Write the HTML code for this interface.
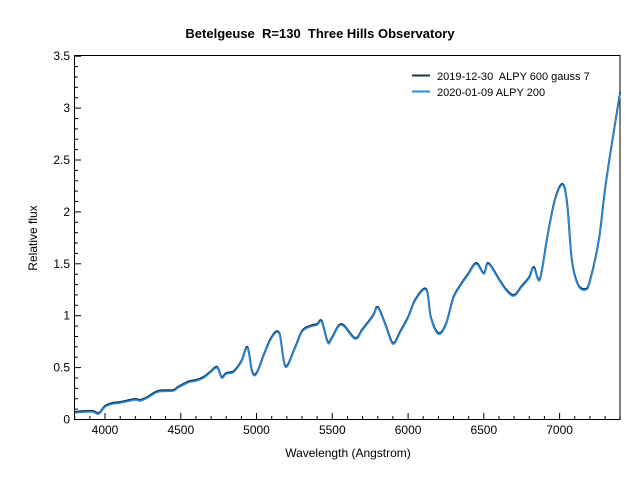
<!DOCTYPE html>
<html><head><meta charset="utf-8"><style>
body{margin:0;background:#fff;}
svg{font-family:"Liberation Sans",sans-serif;}
text{white-space:pre;}
</style></head><body>
<svg id="s" width="640" height="480" xmlns="http://www.w3.org/2000/svg">
<rect width="640" height="480" fill="#fff"/>
<text x="320" y="38" text-anchor="middle" font-size="13" font-weight="bold">Betelgeuse  R=130  Three Hills Observatory</text>
<g id="ax"></g>
<rect x="74.5" y="55.5" width="545.5" height="364" fill="none" stroke="#000" stroke-width="1"/>
<text x="348" y="457" text-anchor="middle" font-size="12">Wavelength (Angstrom)</text>
<text transform="translate(37,238) rotate(-90)" text-anchor="middle" font-size="12">Relative flux</text>
<line x1="412" y1="75.5" x2="430" y2="75.5" stroke="#1d3545" stroke-width="2"/>
<text x="437" y="80" font-size="11">2019-12-30  ALPY 600 gauss 7</text>
<line x1="412" y1="91.5" x2="430" y2="91.5" stroke="#2a8ae0" stroke-width="2"/>
<text x="437" y="96" font-size="11">2020-01-09 ALPY 200</text>
<path id="p1" fill="none" stroke="#1d3545" stroke-width="2"/>
<path id="p2" fill="none" stroke="#2a8ae0" stroke-width="1.6"/>
</svg>
<script>
var X=function(w){return 74.7+(w-3800)*0.15153;};
var Y=function(v){return 419.5-v*103.8;};
var ax=document.getElementById('ax'),h='';
for(var w=3800;w<=7400;w+=100){var x=X(w).toFixed(1),maj=w%500==0;
h+='<line x1="'+x+'" y1="419.5" x2="'+x+'" y2="'+(maj?413:416)+'" stroke="#000"/>';
if(maj&&w>=4000)h+='<text x="'+x+'" y="434" text-anchor="middle" font-size="12">'+w+'</text>';}
for(var i=0;i<=35;i++){var v=i/10,y=Y(v).toFixed(1),maj=i%5==0;
h+='<line x1="74.5" y1="'+y+'" x2="'+(maj?81:78)+'" y2="'+y+'" stroke="#000"/>';
if(maj)h+='<text x="70" y="'+(Y(v)+4)+'" text-anchor="end" font-size="12">'+(v==0?'0':(''+v))+'</text>';}
ax.innerHTML=h;
var d=[[3800,413],[3870,412],[3920,412],[3960,414],[4000,407],[4050,404],[4100,403],[4200,400],[4230,401],[4280,398],[4350,392],[4450,391],[4480,388],[4530,384],[4560,382],[4600,381],[4650,378],[4700,372],[4740,368],[4770,378],[4800,374],[4850,372],[4900,362],[4940,348],[4970,372],[5000,374],[5050,355],[5100,338],[5150,334],[5190,367],[5250,350],[5300,332],[5350,327],[5400,325],[5430,322],[5470,343],[5500,338],[5560,325],[5650,339],[5700,330],[5770,316],[5800,308],[5850,325],[5900,344],[5950,332],[6000,318],[6050,300],[6120,290],[6150,318],[6200,334],[6250,325],[6300,298],[6350,285],[6400,274],[6450,264],[6500,274],[6530,264],[6600,280],[6650,291],[6700,296],[6750,287],[6800,278],[6830,268],[6870,280],[6920,237],[6970,200],[7020,185],[7050,205],[7080,260],[7120,285],[7170,290],[7200,282],[7260,240],[7300,190],[7350,140],[7400,93]];
function path(off){var P=d.map(function(p){return [X(p[0]),p[1]+off];});
var s='M'+P[0][0].toFixed(1)+','+P[0][1];
for(var i=0;i<P.length-1;i++){var p0=P[Math.max(i-1,0)],p1=P[i],p2=P[i+1],p3=P[Math.min(i+2,P.length-1)];
var c1=[p1[0]+(p2[0]-p0[0])/6,p1[1]+(p2[1]-p0[1])/6],c2=[p2[0]-(p3[0]-p1[0])/6,p2[1]-(p3[1]-p1[1])/6];
s+=' C'+c1[0].toFixed(1)+','+c1[1].toFixed(1)+' '+c2[0].toFixed(1)+','+c2[1].toFixed(1)+' '+p2[0].toFixed(1)+','+p2[1].toFixed(1);}
return s;}
document.getElementById('p1').setAttribute('d',path(-1));
document.getElementById('p2').setAttribute('d',path(0));
</script>
</body></html>
